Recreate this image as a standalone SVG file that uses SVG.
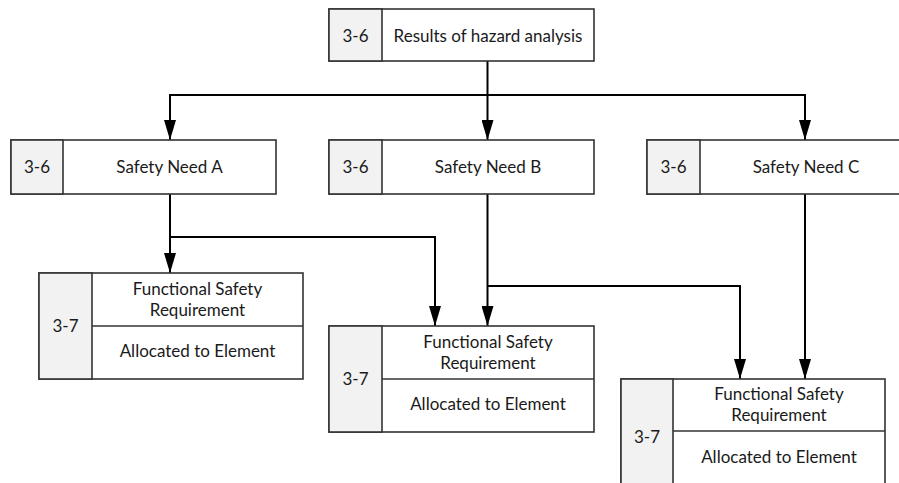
<svg xmlns="http://www.w3.org/2000/svg" width="899" height="483" viewBox="0 0 899 483">
<defs>
<style>
.box{fill:#ffffff;stroke:#333333;stroke-width:1.6}
.id{fill:#f2f2f2;stroke:#333333;stroke-width:1.6}
.div{stroke:#333333;stroke-width:1.6;fill:none}
.t{font-family:Lato,"Liberation Sans",sans-serif;font-size:17px;fill:#1a1a1a;text-anchor:middle}
.c{fill:none;stroke:#000000;stroke-width:2}
</style>
<marker id="arr" markerUnits="userSpaceOnUse" markerWidth="20" markerHeight="12" refX="20" refY="6" orient="auto">
<path d="M0,0 L20,6 L0,12 z" fill="#000000"/>
</marker>
</defs>
<rect width="899" height="483" fill="#ffffff"/>

<g id="connectors">
<path class="c" d="M487.5,61 V140" marker-end="url(#arr)"/>
<path class="c" d="M487.5,95 H170 V140" marker-end="url(#arr)"/>
<path class="c" d="M487.5,95 H805 V140" marker-end="url(#arr)"/>
<path class="c" d="M170,194 V273" marker-end="url(#arr)"/>
<path class="c" d="M170,237 H435 V326" marker-end="url(#arr)"/>
<path class="c" d="M487.5,194 V326" marker-end="url(#arr)"/>
<path class="c" d="M487.5,286 H740 V379" marker-end="url(#arr)"/>
<path class="c" d="M805,194 V379" marker-end="url(#arr)"/>
</g>

<g id="hazard">
<rect class="box" x="329" y="9" width="265" height="52"/>
<rect class="id" x="329" y="9" width="53" height="52"/>
<text class="t" x="355.5" y="42">3-6</text>
<text class="t" x="488" y="42">Results of hazard analysis</text>
</g>

<g id="needA">
<rect class="box" x="11" y="140" width="265" height="54"/>
<rect class="id" x="11" y="140" width="52" height="54"/>
<text class="t" x="37" y="173">3-6</text>
<text class="t" x="169.5" y="173">Safety Need A</text>
</g>

<g id="needB">
<rect class="box" x="329" y="140" width="265" height="54"/>
<rect class="id" x="329" y="140" width="53" height="54"/>
<text class="t" x="355.5" y="173">3-6</text>
<text class="t" x="488" y="173">Safety Need B</text>
</g>

<g id="needC">
<rect class="box" x="647" y="140" width="265" height="54"/>
<rect class="id" x="647" y="140" width="53" height="54"/>
<text class="t" x="673.5" y="173">3-6</text>
<text class="t" x="806" y="173">Safety Need C</text>
</g>

<g id="fsrA">
<rect class="box" x="39" y="273" width="264" height="106"/>
<rect class="id" x="39" y="273" width="53" height="106"/>
<line class="div" x1="92" y1="326" x2="303" y2="326"/>
<text class="t" x="65.5" y="332">3-7</text>
<text class="t" x="197.5" y="295">Functional Safety</text>
<text class="t" x="197.5" y="316">Requirement</text>
<text class="t" x="197.5" y="357">Allocated to Element</text>
</g>

<g id="fsrB">
<rect class="box" x="329" y="326" width="265" height="106"/>
<rect class="id" x="329" y="326" width="53" height="106"/>
<line class="div" x1="382" y1="379" x2="594" y2="379"/>
<text class="t" x="355.5" y="385">3-7</text>
<text class="t" x="488" y="348">Functional Safety</text>
<text class="t" x="488" y="369">Requirement</text>
<text class="t" x="488" y="410">Allocated to Element</text>
</g>

<g id="fsrC">
<rect class="box" x="621" y="379" width="264" height="118"/>
<rect class="id" x="621" y="379" width="52" height="118"/>
<line class="div" x1="673" y1="431" x2="885" y2="431"/>
<text class="t" x="647" y="443">3-7</text>
<text class="t" x="779" y="400">Functional Safety</text>
<text class="t" x="779" y="421">Requirement</text>
<text class="t" x="779" y="463">Allocated to Element</text>
</g>
</svg>
